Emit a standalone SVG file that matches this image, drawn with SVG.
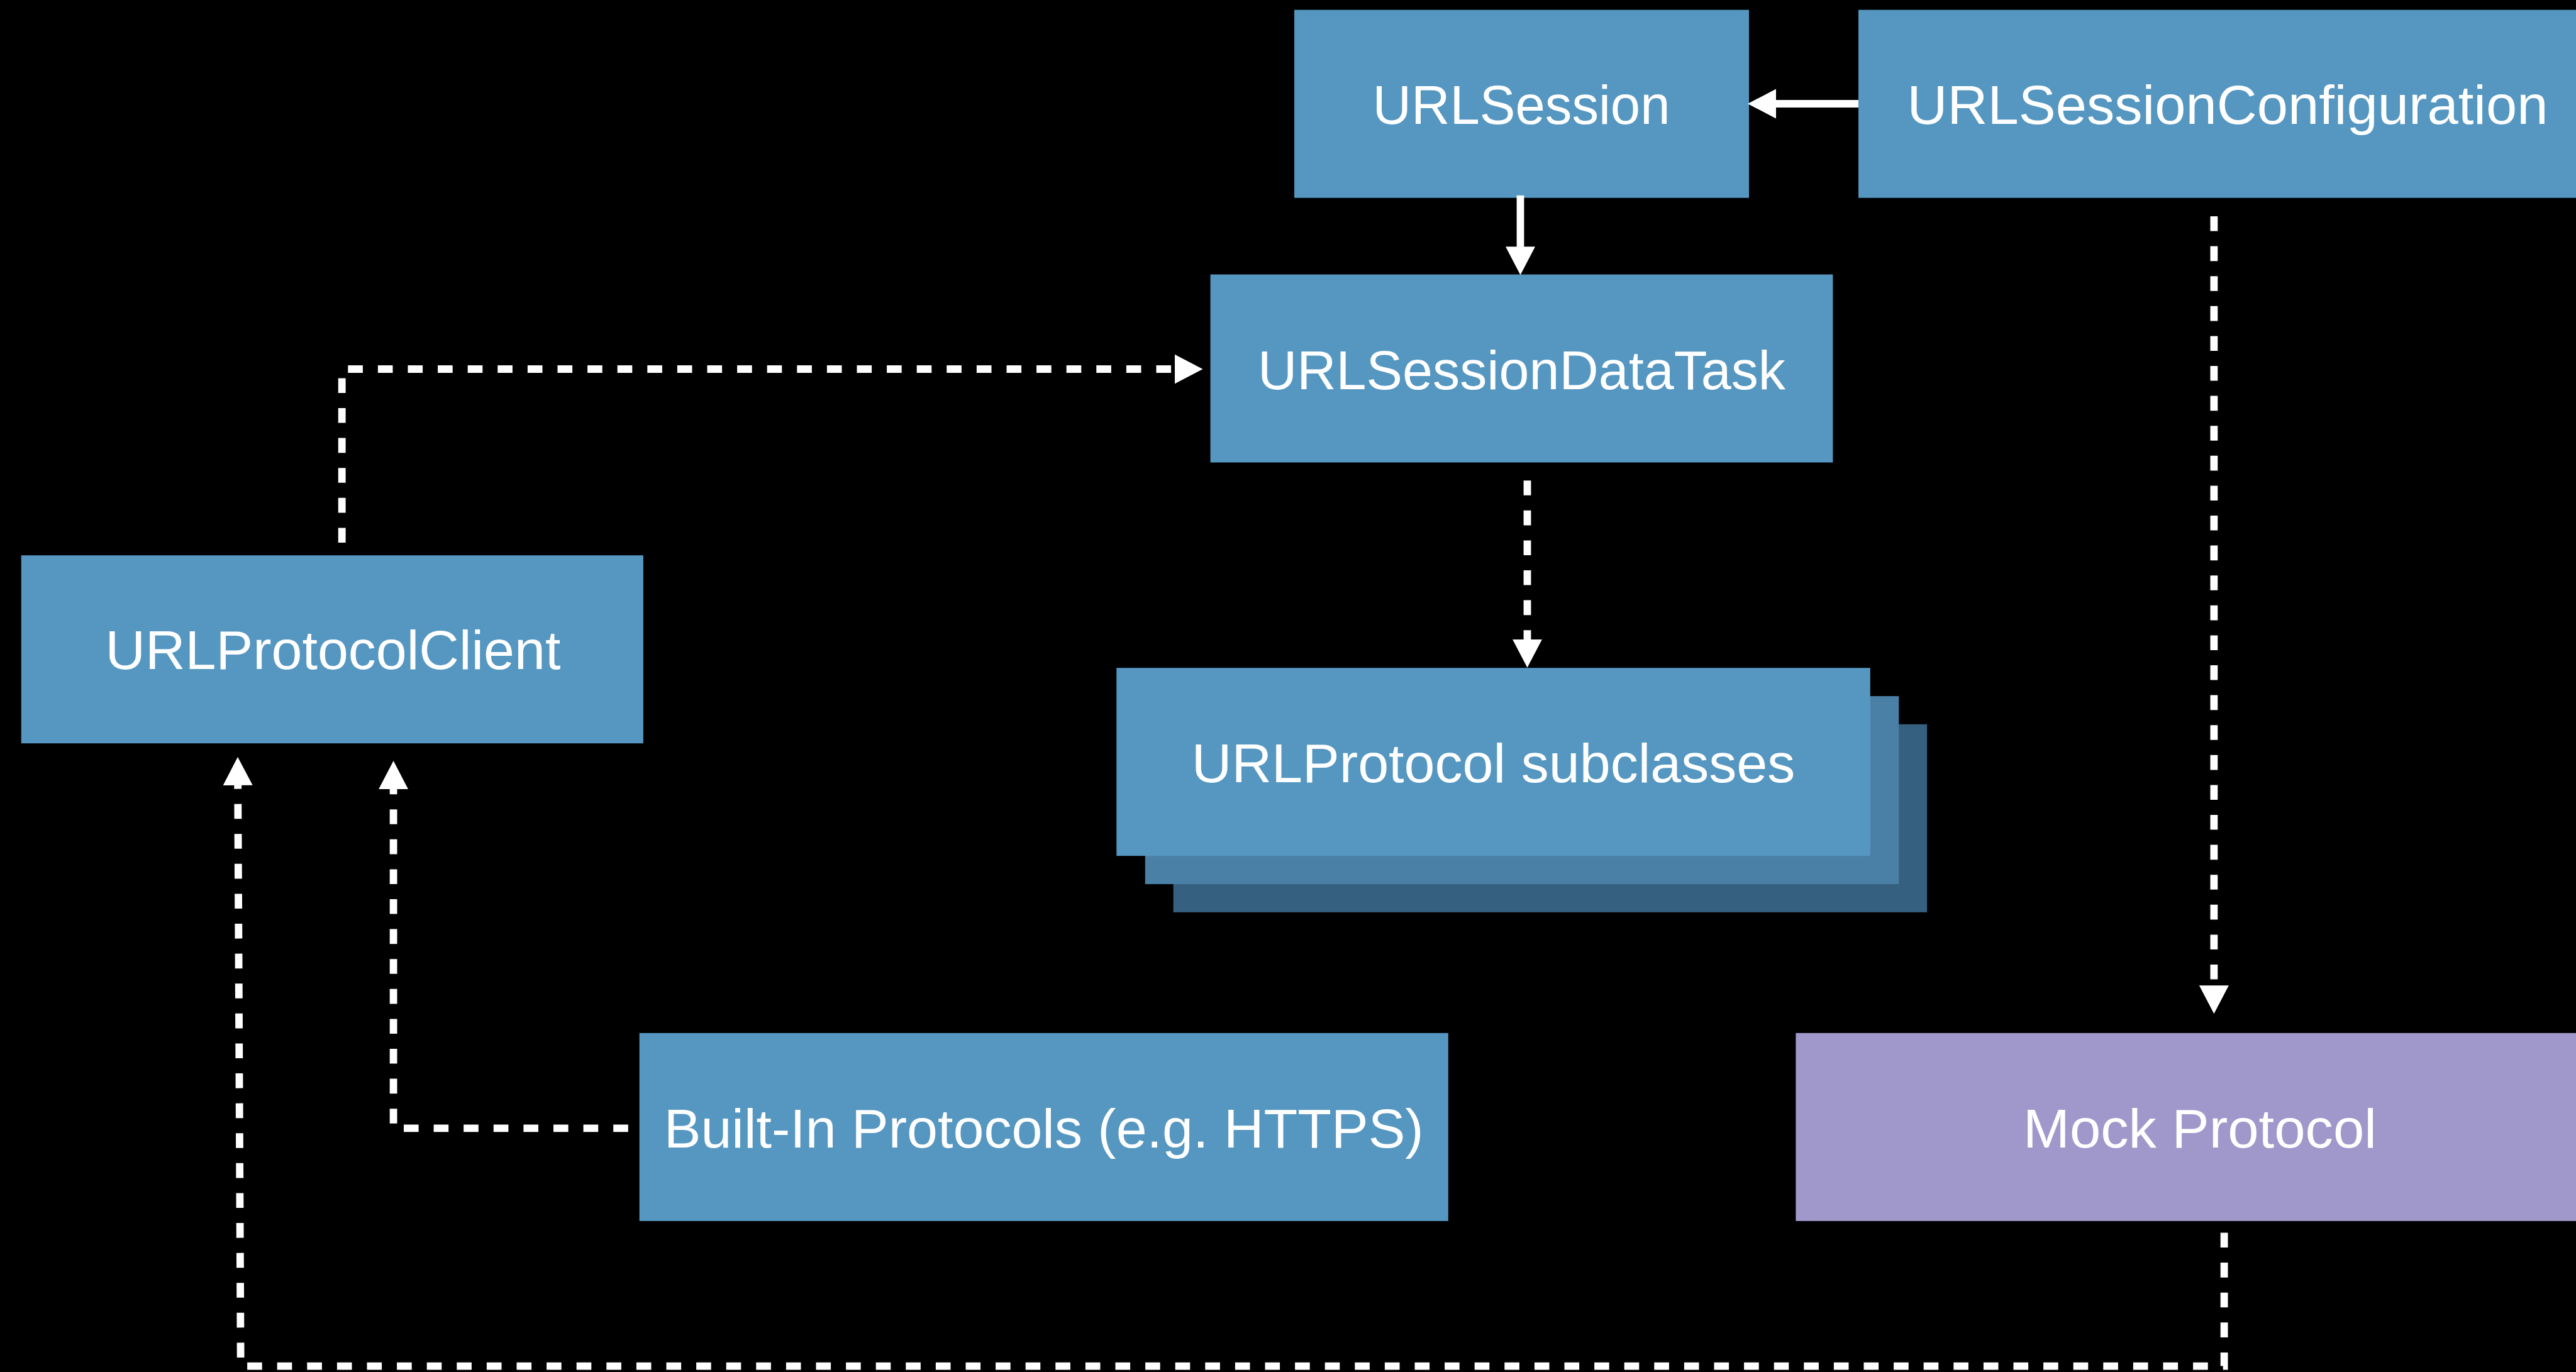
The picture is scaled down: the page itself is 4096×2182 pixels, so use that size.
<svg xmlns="http://www.w3.org/2000/svg" width="4096" height="2182" viewBox="0 0 4096 2182">
  <style>
    .box { fill: #5597C1; }
    .mid { fill: #4A80A6; }
    .back { fill: #366080; }
    .mock { fill: #A098CB; }
    .lbl { font-family: "Liberation Sans", Arial, sans-serif; font-size: 87.5px; fill: #FFFFFF; text-anchor: middle; }
    .solid { fill: none; stroke: #FFFFFF; stroke-width: 11.8; marker-end: url(#arrow); }
    .dash { fill: none; stroke: #FFFFFF; stroke-width: 11.8; stroke-dasharray: 23.6 24; marker-end: url(#arrow); }
  </style>
  <defs>
    <marker id="arrow" viewBox="0 0 45 47" refX="0.5" refY="23.5" markerWidth="45" markerHeight="47" markerUnits="userSpaceOnUse" orient="auto">
      <path d="M0,0 L45,23.5 L0,47 Z" fill="#FFFFFF"/>
    </marker>
  </defs>
  <rect x="0" y="0" width="4096" height="2182" fill="#000000"/>

  <g id="urlsession">
    <rect class="box" x="2058" y="15.7" width="723" height="299"/>
    <text class="lbl" x="2419" y="197" textLength="473" lengthAdjust="spacingAndGlyphs">URLSession</text>
  </g>
  <g id="urlsessionconfiguration">
    <rect class="box" x="2955" y="15.7" width="1175" height="299"/>
    <text class="lbl" x="3542" y="197" textLength="1019" lengthAdjust="spacingAndGlyphs">URLSessionConfiguration</text>
  </g>
  <g id="urlsessiondatatask">
    <rect class="box" x="1924.6" y="436.5" width="989.8" height="299"/>
    <text class="lbl" x="2419.5" y="619" textLength="839" lengthAdjust="spacingAndGlyphs">URLSessionDataTask</text>
  </g>
  <g id="urlprotocolclient">
    <rect class="box" x="33.7" y="883.2" width="989.2" height="299"/>
    <text class="lbl" x="529.4" y="1063.8" textLength="724" lengthAdjust="spacingAndGlyphs">URLProtocolClient</text>
  </g>
  <g id="urlprotocol-subclasses">
    <rect class="back" x="1865.7" y="1151.9" width="1198.5" height="299"/>
    <rect class="mid" x="1820.8" y="1107.1" width="1198.5" height="299"/>
    <rect class="box" x="1775.3" y="1062.2" width="1198.5" height="299"/>
    <text class="lbl" x="2374.6" y="1244" textLength="959.5" lengthAdjust="spacingAndGlyphs">URLProtocol subclasses</text>
  </g>
  <g id="builtin-protocols">
    <rect class="box" x="1016.7" y="1642.9" width="1286.1" height="299"/>
    <text class="lbl" x="1659.7" y="1825.3" textLength="1208" lengthAdjust="spacingAndGlyphs">Built-In Protocols (e.g. HTTPS)</text>
  </g>
  <g id="mock-protocol">
    <rect class="mock" x="2855.4" y="1642.9" width="1284.6" height="299"/>
    <text class="lbl" x="3498" y="1824.7" textLength="562" lengthAdjust="spacingAndGlyphs">Mock Protocol</text>
  </g>

  <g id="connectors">
    <path class="solid" d="M2955,165 H2823.5"/>
    <path class="solid" d="M2417.5,310.8 V392.8"/>
    <path class="dash" d="M543.7,863 V587 H1868"/>
    <path class="dash" d="M2428.5,764.2 V1017.3"/>
    <path class="dash" d="M3520.4,344 V1567.7"/>
    <path class="dash" d="M998.8,1794.4 H625.6 V1254.6"/>
    <path class="dash" d="M3536.6,1960.5 V2172.6 H382.7 L378.2,1248.4"/>
  </g>
</svg>
